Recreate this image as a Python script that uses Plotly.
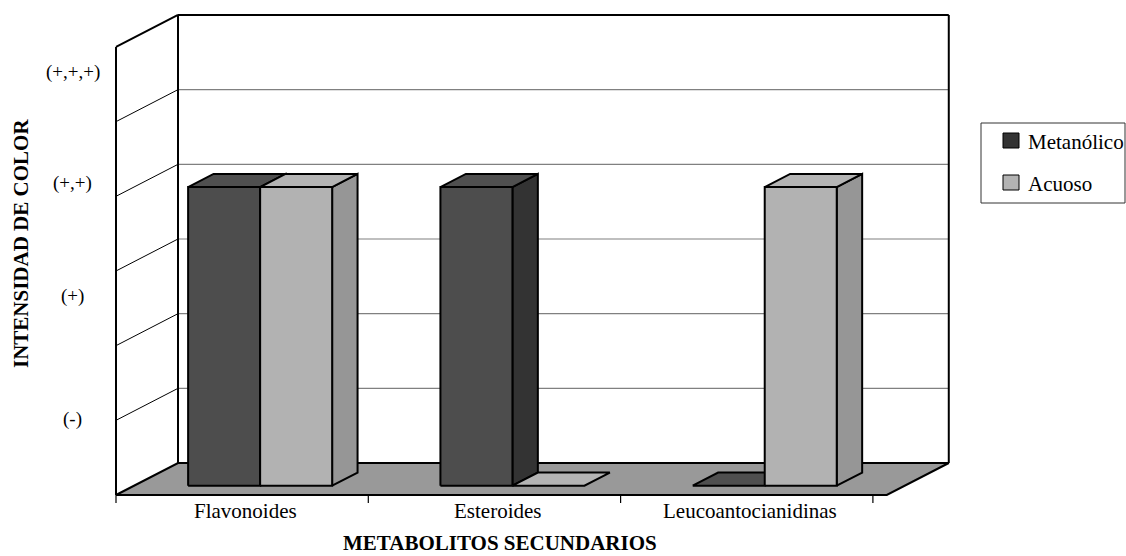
import plotly.graph_objects as go

# ---- data -------------------------------------------------------------
categories = ["Flavonoides", "Esteroides", "Leucoantocianidinas"]
metanolico = [4, 4, 0]
acuoso = [4, 0, 4]
series_names = ["Metanólico", "Acuoso"]

y_tick_labels = ["(-)", "(+)", "(+,+)", "(+,+,+)"]
y_tick_values = [1.02, 2.66, 4.18, 5.66]
y_max = 6

x_title = "METABOLITOS SECUNDARIOS"
y_title = "INTENSIDAD DE COLOR"

# ---- styling / geometry ----------------------------------------------
W, H = 1126, 556
FONT = "Liberation Serif, Times New Roman, serif"
ORIGIN = (116, 495)          # pixel of (x=0, y=0) on the front plane
PX_X = 252.3                 # pixels per category
PX_Y = 74.67                 # pixels per value unit
DEPTH_DX = 62 / PX_X         # oblique depth offset (data units)
DEPTH_DY = 32 / PX_Y
WALL_W = 3.055               # width of walls/floor in category units
BAR_W = 0.2854
BAR_D0, BAR_D1 = 0.29, 0.70  # bar depth span (fraction of full depth)

COLORS = {
    "Metanólico": dict(front="#4d4d4d", top="#4f4f4f", side="#333333", swatch="#333333"),
    "Acuoso": dict(front="#b2b2b2", top="#b4b4b4", side="#969696", swatch="#b3b3b3"),
}

# plot area (pixels) and corresponding axis ranges
L_PX, R_PX, T_PX, B_PX = 106, 960, 6, 512
x_range = [(L_PX - ORIGIN[0]) / PX_X, (R_PX - ORIGIN[0]) / PX_X]
y_range = [(ORIGIN[1] - B_PX) / PX_Y, (ORIGIN[1] - T_PX) / PX_Y]


def proj(x, y, d):
    """Oblique projection of (x, value, depth) onto the 2-D axes."""
    return x + d * DEPTH_DX, y + d * DEPTH_DY


def px_paper(px, py):
    return (px - L_PX) / (R_PX - L_PX), 1 - (py - T_PX) / (B_PX - T_PX)


fig = go.Figure()


def poly(pts, fill, lw=2.0, color="black"):
    xs = [p[0] for p in pts] + [pts[0][0]]
    ys = [p[1] for p in pts] + [pts[0][1]]
    fig.add_trace(go.Scatter(
        x=xs, y=ys, mode="lines", fill="toself", fillcolor=fill,
        line=dict(color=color, width=lw), hoverinfo="skip", showlegend=False))


def seg(p, q, color="black", lw=1.0):
    fig.add_trace(go.Scatter(
        x=[p[0], q[0]], y=[p[1], q[1]], mode="lines",
        line=dict(color=color, width=lw), hoverinfo="skip", showlegend=False))


# back wall and its gridlines
poly([proj(0, 0, 1), proj(WALL_W, 0, 1), proj(WALL_W, y_max, 1), proj(0, y_max, 1)],
     "white", lw=0.1, color="white")
for k in range(1, y_max):
    seg(proj(0, k, 1), proj(WALL_W, k, 1), color="#808080", lw=1.2)

# left wall and its gridlines
poly([proj(0, 0, 0), proj(0, 0, 1), proj(0, y_max, 1), proj(0, y_max, 0)],
     "white", lw=0.1, color="white")
for k in range(1, y_max):
    seg(proj(0, k, 0), proj(0, k, 1), color="black", lw=1.0)

# wall outlines
seg(proj(0, y_max, 1), proj(WALL_W, y_max, 1), lw=2)
seg(proj(WALL_W, 0, 1), proj(WALL_W, y_max, 1), lw=2)
seg(proj(0, 0, 1), proj(0, y_max, 1), lw=2)
seg(proj(0, 0, 0), proj(0, y_max, 0), lw=2)
seg(proj(0, y_max, 0), proj(0, y_max, 1), lw=2)

# floor
poly([proj(0, 0, 0), proj(WALL_W, 0, 0), proj(WALL_W, 0, 1), proj(0, 0, 1)],
     "#999999", lw=2)

# bars (drawn left to right so nearer right faces overlap correctly)
for i, cat in enumerate(categories):
    for s, (name, vals) in enumerate(zip(series_names, [metanolico, acuoso])):
        v = vals[i]
        c = COLORS[name]
        x0 = i + 0.5 - BAR_W + s * BAR_W
        x1 = x0 + BAR_W
        if v > 0:
            poly([proj(x1, 0, BAR_D0), proj(x1, 0, BAR_D1),
                  proj(x1, v, BAR_D1), proj(x1, v, BAR_D0)], c["side"])
            poly([proj(x0, 0, BAR_D0), proj(x1, 0, BAR_D0),
                  proj(x1, v, BAR_D0), proj(x0, v, BAR_D0)], c["front"])
        poly([proj(x0, v, BAR_D0), proj(x1, v, BAR_D0),
              proj(x1, v, BAR_D1), proj(x0, v, BAR_D1)], c["top"])

# category ticks along the front floor edge
for k in range(len(categories) + 1):
    seg((k, 0), (k, -8 / PX_Y), lw=1.2)

annotations = []
for i, cat in enumerate(categories):
    annotations.append(dict(
        x=i + 0.5, y=0, xref="x", yref="y", text=cat, showarrow=False,
        xanchor="center", yanchor="middle", xshift=3, yshift=-16,
        font=dict(family=FONT, size=21, color="black")))

for lab, val in zip(y_tick_labels, y_tick_values):
    annotations.append(dict(
        x=0, y=val, xref="x", yref="y", text=lab, showarrow=False,
        xanchor="center", yanchor="middle", xshift=-43.5,
        font=dict(family=FONT, size=19, color="black")))

tx, ty = px_paper(500, 556)
annotations.append(dict(
    x=tx, y=ty, xref="paper", yref="paper", text=f"<b>{x_title}</b>",
    showarrow=False, xanchor="center", yanchor="bottom", borderpad=0,
    font=dict(family=FONT, size=21, color="black")))
tx, ty = px_paper(21, 244)
annotations.append(dict(
    x=tx, y=ty, xref="paper", yref="paper", text=f"<b>{y_title}</b>",
    showarrow=False, xanchor="center", yanchor="middle", textangle=-90,
    font=dict(family=FONT, size=21, color="black")))

# legend box
shapes = []
bx0, by0 = px_paper(981, 123)
bx1, by1 = px_paper(1125, 203)
shapes.append(dict(type="rect", xref="paper", yref="paper", x0=bx0, y0=by0,
                   x1=bx1, y1=by1, line=dict(color="#333333", width=1),
                   fillcolor="white"))
for j, name in enumerate(series_names):
    cy = 140.5 + j * 42
    sx0, sy0 = px_paper(1003, cy - 7.5)
    sx1, sy1 = px_paper(1019, cy + 7.5)
    shapes.append(dict(type="rect", xref="paper", yref="paper", x0=sx0, y0=sy0,
                       x1=sx1, y1=sy1, line=dict(color="black", width=1),
                       fillcolor=COLORS[name]["swatch"]))
    lx, ly = px_paper(1026, cy + 1)
    annotations.append(dict(
        x=lx, y=ly, xref="paper", yref="paper", text=name, showarrow=False,
        xanchor="left", yanchor="middle",
        font=dict(family=FONT, size=21, color="black")))

fig.update_layout(
    width=W, height=H, autosize=False,
    margin=dict(l=L_PX, r=W - R_PX, t=T_PX, b=H - B_PX, pad=0),
    paper_bgcolor="white", plot_bgcolor="white",
    xaxis=dict(range=x_range, visible=False, fixedrange=True),
    yaxis=dict(range=y_range, visible=False, fixedrange=True),
    showlegend=False,
    annotations=annotations, shapes=shapes,
)

fig.write_html("out.html", config={"displayModeBar": False})
